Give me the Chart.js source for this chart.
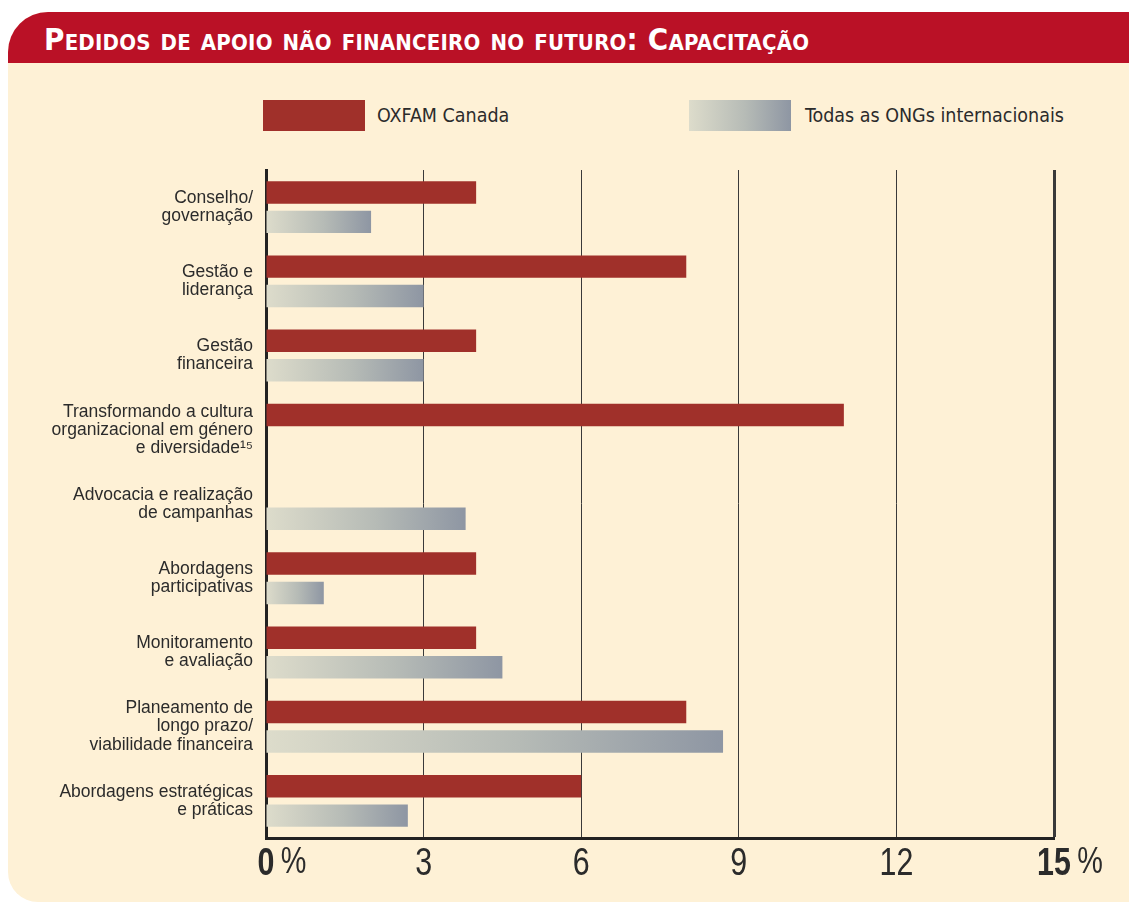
<!DOCTYPE html>
<html lang="pt">
<head>
<meta charset="UTF-8">
<title>Pedidos de apoio não financeiro no futuro: Capacitação</title>
<script src="https://cdn.jsdelivr.net/npm/chart.js"></script>
<style>
  body { margin: 0; background: #fff; font-family: "DejaVu Sans Condensed", "DejaVu Sans", sans-serif; }
  #panel { position: absolute; left: 8px; top: 12px; width: 1150px; height: 890px; background: #fef1d6;
           border-radius: 40px 30px 0 30px; overflow: hidden; }
  #header { height: 51px; background: #ba1126; color: #fff; font-weight: bold; font-size: 31px;
            font-variant: small-caps; letter-spacing: 0.2px; line-height: 54px; padding-left: 36px; }
  .leg { position: absolute; top: 100px; height: 31px; }
  .sw { position: absolute; top: 0; width: 102px; height: 31px; }
  .lt { position: absolute; top: 4px; font-size: 19.5px; color: #2b2b2b; white-space: nowrap; }
  #chart { position: absolute; left: 0; top: 139px; }
</style>
</head>
<body>
<div id="panel">
  <div id="header">Pedidos de apoio não financeiro no futuro: Capacitação</div>
</div>
<div class="leg" style="left:263px"><div class="sw" style="background:#a0302a"></div><div class="lt" style="left:114px">OXFAM Canada</div></div>
<div class="leg" style="left:689px"><div class="sw" style="background:linear-gradient(to right,#dddccb,#b6bbb6 55%,#8e96a3)"></div><div class="lt" style="left:116px">Todas as ONGs internacionais</div></div>
<canvas id="chart" width="1129" height="749"></canvas>
<script>
  const categories = [
    ['Conselho/', 'governação'],
    ['Gestão e', 'liderança'],
    ['Gestão', 'financeira'],
    ['Transformando a cultura', 'organizacional em género', 'e diversidade¹⁵'],
    ['Advocacia e realização', 'de campanhas'],
    ['Abordagens', 'participativas'],
    ['Monitoramento', 'e avaliação'],
    ['Planeamento de', 'longo prazo/', 'viabilidade financeira'],
    ['Abordagens estratégicas', 'e práticas']
  ];
  const oxfamCanada = [4, 8, 4, 11, null, 4, 4, 8, 6];
  const todasOngs = [2, 3, 3, null, 3.8, 1.1, 4.5, 8.7, 2.7];
  const xTicks = [0, 3, 6, 9, 12, 15];

  function grayGradient(ctx) {
    const chart = ctx.chart;
    if (!chart.chartArea || ctx.raw == null) return '#b6bbb6';
    const x = chart.scales.x;
    const x0 = x.getPixelForValue(0);
    const x1 = x.getPixelForValue(ctx.raw);
    const g = chart.ctx.createLinearGradient(x0, 0, Math.max(x1, x0 + 1), 0);
    g.addColorStop(0, '#dddccb');
    g.addColorStop(0.55, '#b6bbb6');
    g.addColorStop(1, '#8e96a3');
    return g;
  }

  // tick labels under the axis: number centred (condensed), bold at the ends with " %"
  const tickLabels = {
    id: 'tickLabels',
    afterDraw(chart) {
      const c = chart.ctx, sx = chart.scales.x;
      const y = chart.chartArea.bottom + 27;
      const sq = 0.8;
      c.save();
      c.fillStyle = '#2b2b2b';
      c.textBaseline = 'middle';
      xTicks.forEach(v => {
        const px = sx.getPixelForValue(v);
        const end = v === 0 || v === 15;
        c.save();
        c.translate(px, y);
        c.scale(sq, 1);
        c.font = (end ? 'bold ' : '') + '38px "Liberation Sans", sans-serif';
        c.textAlign = 'center';
        c.fillText(String(v), 0, 0);
        if (end) {
          const w = c.measureText(String(v)).width;
          c.font = '36px "Liberation Sans", sans-serif';
          c.textAlign = 'left';
          c.fillText('%', w / 2 + 8, -2);
        }
        c.restore();
      });
      c.restore();
    }
  };

  new Chart(document.getElementById('chart'), {
    type: 'bar',
    data: {
      labels: categories,
      datasets: [
        { label: 'OXFAM Canada', data: oxfamCanada, backgroundColor: '#a0302a',
          barPercentage: 0.763, categoryPercentage: 0.794 },
        { label: 'Todas as ONGs internacionais', data: todasOngs, backgroundColor: grayGradient,
          barPercentage: 0.763, categoryPercentage: 0.794 }
      ]
    },
    options: {
      indexAxis: 'y',
      responsive: false,
      animation: false,
      layout: { padding: { top: 0, right: 75, left: 0, bottom: 0 } },
      plugins: { legend: { display: false }, tooltip: { enabled: false } },
      scales: {
        x: {
          min: 0, max: 15,
          afterBuildTicks: s => { s.ticks = xTicks.map(v => ({ value: v })); },
          afterFit: s => { s.height = 50; },
          ticks: { display: false },
          grid: {
            drawTicks: false,
            color: '#3a3a3a',
            lineWidth: ctx => ctx.tick && ctx.tick.value === 15 ? 3 : 1
          },
          border: { display: true, color: '#222', width: 3 }
        },
        y: {
          afterFit: s => { s.width = 266; },
          grid: { display: false, drawTicks: false },
          border: { display: true, color: '#222', width: 3 },
          ticks: {
            color: '#2b2b2b',
            padding: 13,
            font: { family: '"Liberation Sans", sans-serif', size: 17.5, lineHeight: 1.03 }
          }
        }
      }
    },
    plugins: [tickLabels]
  });
</script>
</body>
</html>
